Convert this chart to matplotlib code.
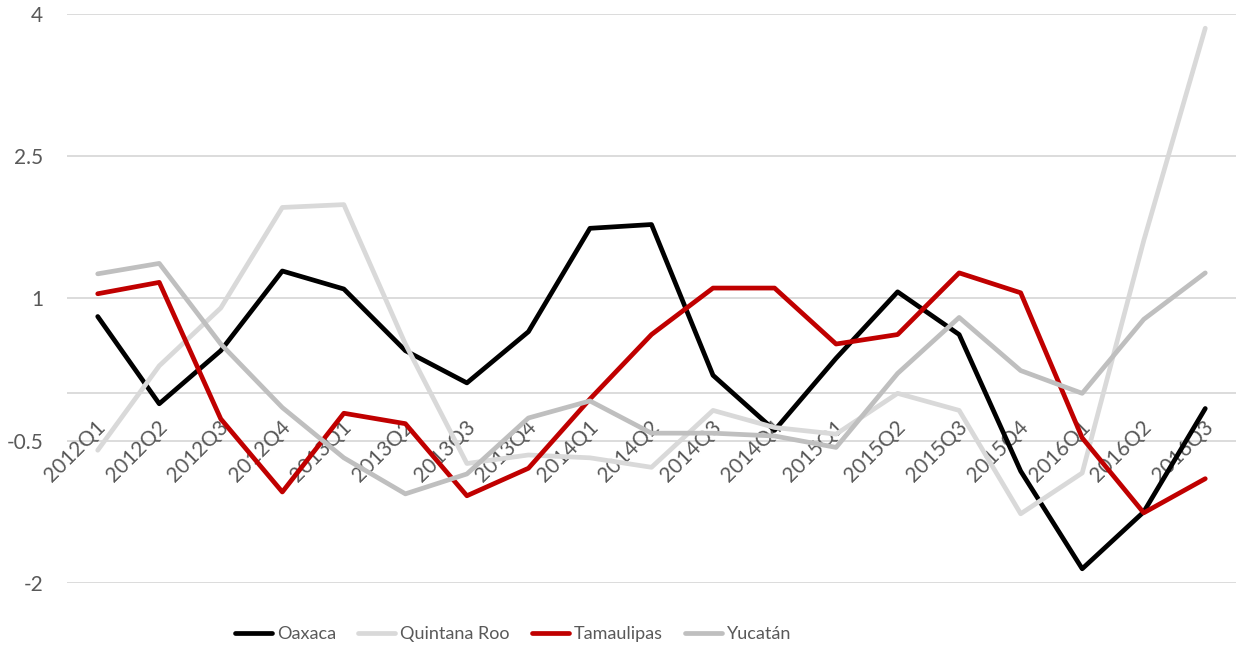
import matplotlib
matplotlib.use("Agg")
import matplotlib.pyplot as plt
import matplotlib.transforms as mtransforms

categories = ["2012Q1", "2012Q2", "2012Q3", "2012Q4", "2013Q1", "2013Q2", "2013Q3", "2013Q4",
              "2014Q1", "2014Q2", "2014Q3", "2014Q4", "2015Q1", "2015Q2", "2015Q3", "2015Q4",
              "2016Q1", "2016Q2", "2016Q3"]

oaxaca = [0.81, -0.11, 0.45, 1.29, 1.10, 0.45, 0.11, 0.65, 1.74, 1.78, 0.19, -0.39,
          0.37, 1.07, 0.62, -0.82, -1.85, -1.25, -0.16]
quintana_roo = [-0.60, 0.29, 0.90, 1.96, 1.99, 0.52, -0.74, -0.65, -0.68, -0.78, -0.18, -0.36,
                -0.43, 0.00, -0.18, -1.27, -0.84, 1.61, 3.85]
tamaulipas = [1.05, 1.17, -0.27, -1.04, -0.21, -0.32, -1.08, -0.79, -0.06, 0.62, 1.11, 1.11,
              0.52, 0.62, 1.27, 1.06, -0.47, -1.26, -0.90]
yucatan = [1.26, 1.37, 0.52, -0.15, -0.68, -1.06, -0.85, -0.26, -0.08, -0.42, -0.42, -0.45,
           -0.57, 0.21, 0.80, 0.24, 0.00, 0.78, 1.27]

series_names = ["Oaxaca", "Quintana Roo", "Tamaulipas", "Yucatán"]
series_values = [oaxaca, quintana_roo, tamaulipas, yucatan]
series_colors = ["#000000", "#d9d9d9", "#c00000", "#bfbfbf"]

y_ticks = [-2, -0.5, 1, 2.5, 4]
y_tick_labels = ["-2", "-0.5", "1", "2.5", "4"]

plt.rcParams['font.family'] = ['Lato', 'DejaVu Sans']
text_color = "#595959"
grid_color = "#d9d9d9"
fs = 15
leg_fs = 13

fig = plt.figure(figsize=(12.4, 6.47), dpi=100)
ax = fig.add_axes([0.054, 0.0989, 0.9428, 0.8795])

x = list(range(len(categories)))
for name, vals, col in zip(series_names, series_values, series_colors):
    ax.plot(x, vals, color=col, lw=3.4, solid_capstyle='round', solid_joinstyle='round',
            label=name, zorder=3)

ax.set_xlim(-0.5, len(categories) - 0.5)
ax.set_ylim(-2, 4)
ax.set_yticks(y_ticks)
ax.set_yticklabels(y_tick_labels)
ax.tick_params(axis='y', length=0, pad=17, labelsize=fs, labelcolor=text_color)
ax.set_xticks([])
for yv in y_ticks:
    ax.axhline(yv, color=grid_color, lw=1.3, zorder=1)
ax.axhline(0, color=grid_color, lw=1.3, zorder=1)
for s in ax.spines.values():
    s.set_visible(False)

# category labels hanging below the zero axis, rotated 45 degrees
offset = mtransforms.ScaledTranslation(5 / 100, -31 / 100, fig.dpi_scale_trans)
for i, lab in enumerate(categories):
    ax.text(i, 0, lab, rotation=45, rotation_mode='anchor', ha='right', va='center',
            fontsize=fs, color=text_color, transform=ax.transData + offset, zorder=2)

leg = ax.legend(loc='center', bbox_to_anchor=(0.3815, -0.0896), ncol=4, frameon=False,
                fontsize=leg_fs, handlelength=2.05, handletextpad=0.28, columnspacing=1.22)
for t in leg.get_texts():
    t.set_color(text_color)

fig.savefig("out.png", dpi=100)
